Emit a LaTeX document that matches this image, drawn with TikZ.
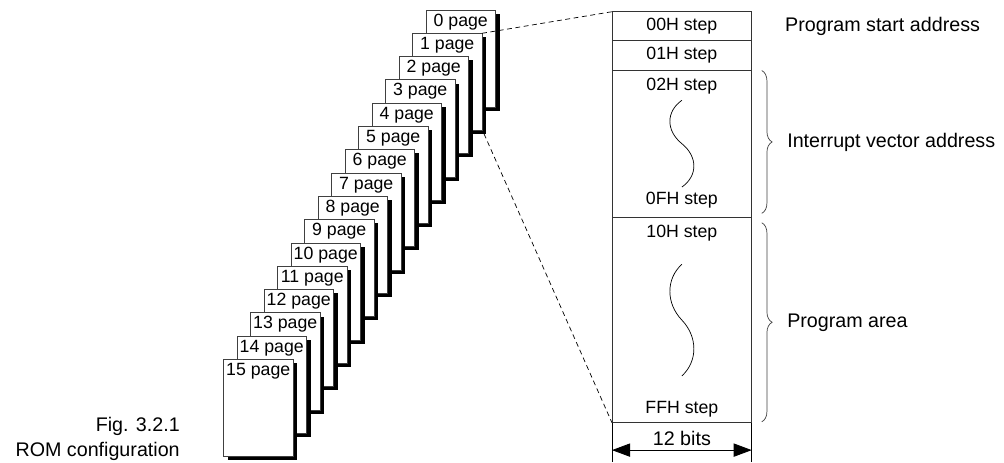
\documentclass[tikz,border=0pt]{standalone}
\usepackage{fontspec}
\setmainfont{Liberation Sans}
\usetikzlibrary{positioning,calc,shadows,arrows.meta,decorations.pathreplacing}

\newcommand\squiggle{}
\def\squiggle(#1)(#2)[#3]{%
  % Synopsis
  % \squiggle(centre)(half length)[bulge]
  \draw[line width=0.5pt] ($#1+(0,-#2)$) .. controls ($#1+(-#3,-0.74*#2)$) and ($#1+(-#3,-0.3*#2)$) .. #1
    .. controls ($#1+(#3,0.3*#2)$) and ($#1+(#3,0.74*#2)$) .. ($#1+(0,#2)$);
}

\tikzset{
  page/.style={rectangle, draw=black!75, line width=0.6pt, fill=white, inner sep=0pt, outer sep=0pt,
    minimum width=1.7375cm, minimum height=2.425cm, anchor=north west,
    drop shadow={shadow xshift=0.1cm, shadow yshift=-0.09cm, opacity=1, fill=black}},
  pagetxt/.style={font=\fontsize{12.6}{14}\selectfont, inner sep=0pt},
  cell/.style={rectangle, draw=black!80, line width=0.6pt, inner sep=0pt, outer sep=0pt,
    minimum width=3.4925cm, font=\fontsize{12.6}{14}\selectfont},
  steptxt/.style={font=\fontsize{12.6}{14}\selectfont, inner sep=0pt},
  sidetxt/.style={font=\fontsize{14}{17}\selectfont, inner sep=0pt},
  zoomline/.style={dash pattern=on 3.5pt off 2.5pt, line width=0.5pt},
  brc/.style={decorate, decoration={brace, amplitude=0.26cm}, line width=0.5pt, draw=black!75},
  dimarrow/.style={{Triangle[length=0.45cm,width=0.33cm]}-{Triangle[length=0.45cm,width=0.33cm]}, line width=0.6pt},
}

\begin{document}
\begin{tikzpicture}[x=0.025cm, y=-0.025cm]
  \useasboundingbox (0,0) rectangle (1004,462);

  % stack of ROM pages, page 0 at the back
  \foreach \i in {0,...,15}{
    \node[page] (p\i) at (426-13.5*\i, 10+23.3*\i) {};
    \node[pagetxt] (t\i) at ($(p\i.north)+(0,11.7)$) {\i\ page};
  }

  % one page, step by step
  \node[cell, minimum height=0.725cm, anchor=north west] (r00) at (612,11.7) {00H step};
  \node[cell, minimum height=0.7325cm, below=0pt of r00] (r01) {01H step};
  \node[cell, minimum height=3.6825cm, below=0pt of r01] (rint) {};
  \node[cell, minimum height=5.135cm, below=0pt of rint] (rprog) {};
  \node[steptxt] (s02) at ($(rint.north)+(0,16)$) {02H step};
  \node[steptxt] (s0f) at ($(rint.south)+(0,-17.3)$) {0FH step};
  \node[steptxt] (s10) at ($(rprog.north)+(0,15.4)$) {10H step};
  \node[steptxt] (sff) at ($(rprog.south)+(0,-13.4)$) {FFH step};
  \squiggle((rint.center))(43.4)[16]
  \squiggle((rprog.center))(55.8)[16]

  % page 1 blown up
  \coordinate (p1shadow) at ($(p1.south east)+(2,3.5)$);
  \draw[zoomline] (p1.north east) -- (r00.north west);
  \draw[zoomline] (p1shadow) -- (rprog.south west);

  % areas
  \node[sidetxt, right=0.83cm of r00] (lstart) {Program start address};
  \draw[brc] ($(rint.north east)+(10,0.5)$) -- ($(rint.south east)+(10,-4)$)
    node[sidetxt, midway, right=0.63cm] (lint) {Interrupt vector address};
  \draw[brc] ($(rprog.north east)+(10,5.4)$) -- ($(rprog.south east)+(10,-1)$)
    node[sidetxt, midway, right=0.63cm] (lprog) {Program area};

  % width of a step
  \coordinate (dimL) at ($(rprog.south west)+(0,39.3)$);
  \coordinate (dimR) at ($(rprog.south east)+(0,39.3)$);
  \coordinate (arL) at ($(rprog.south west)+(0,27.3)$);
  \coordinate (arR) at ($(rprog.south east)+(0,27.3)$);
  \draw[line width=0.6pt] (rprog.south west) -- (dimL) (rprog.south east) -- (dimR);
  \draw[dimarrow] (arL) -- (arR);
  \node[sidetxt] (bits) at ($(rprog.south)+(0,15.6)$) {12 bits};

  \node[sidetxt, anchor=east] (fig) at (180,426) {Fig. 3.2.1};
  \node[sidetxt, anchor=east] (cap) at (180,451) {ROM configuration};
\end{tikzpicture}
\end{document}
